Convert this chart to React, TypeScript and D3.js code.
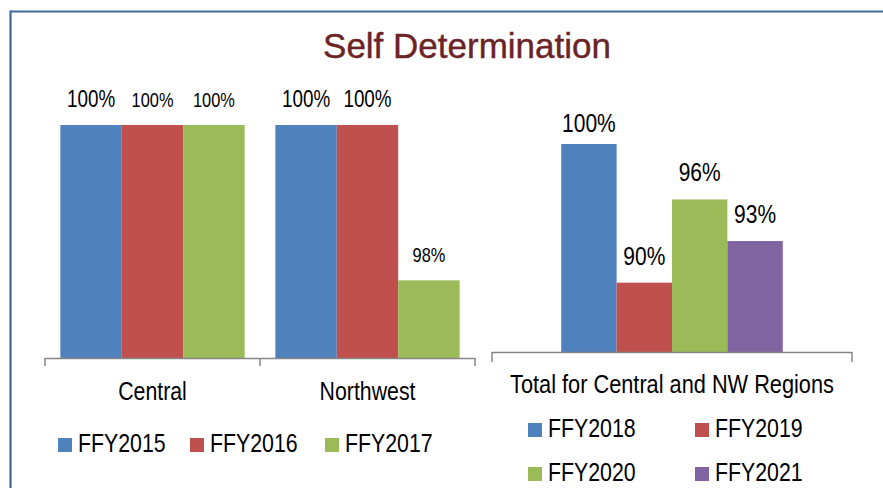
import React from "react";
import * as d3 from "d3";

const leftCategories = ["Central", "Northwest"];
const leftSeries = ["FFY2015", "FFY2016", "FFY2017"];
const leftValues = [
  [100, 100, 100],
  [100, 100, 98],
];
const leftLabelSizes = [
  [23, 20, 20],
  [23, 23, 20],
];
const rightCategory = "Total for Central and NW Regions";
const rightSeries = ["FFY2018", "FFY2019", "FFY2020", "FFY2021"];
const rightValues = [100, 90, 96, 93];
const colors = ["#4f81bd", "#c0504d", "#9bbb59", "#8064a2"];
const title = "Self Determination";

const SANS = "'Liberation Sans', Arial, sans-serif";
const NARROW_SX = 0.82;

function T(props: {
  x: number;
  y: number;
  size: number;
  anchor?: "start" | "middle" | "end";
  sx?: number;
  children: React.ReactNode;
}) {
  const sx = props.sx ?? NARROW_SX;
  return (
    <text
      transform={`translate(${props.x},${props.y}) scale(${sx},1)`}
      textAnchor={props.anchor ?? "start"}
      fontFamily={SANS}
      fontSize={props.size}
      fill="#000"
    >
      {props.children}
    </text>
  );
}

export default function App() {
  const W = 883, H = 488;
  // left panel
  const lx = d3.scaleBand<string>().domain(leftCategories).range([45, 475]).paddingInner(0).paddingOuter(0);
  const lsub = d3.scaleBand<string>().domain(leftSeries).range([0, lx.bandwidth()]).paddingInner(0).paddingOuter(0.25);
  const ly = d3.scaleLinear().domain([97, 100]).range([358, 125]);
  // right panel
  const rx = d3.scaleBand<string>().domain(rightSeries).range([492, 852]).paddingInner(0).paddingOuter(1.25);
  const ry = d3.scaleLinear().domain([85, 100]).range([352, 144]);
  const rTop = 112;
  const axisColor = "#868686";

  return (
    <svg width={W} height={H} style={{ position: "absolute", left: 0, top: 0, background: "#fff" }}>
      <rect x={0} y={0} width={W} height={H} fill="#fff" />
      {/* frame */}
      <line x1={10} y1={11.5} x2={W} y2={11.5} stroke="#41689a" strokeWidth={2.2} />
      <line x1={10.5} y1={10.5} x2={10.5} y2={H} stroke="#41689a" strokeWidth={2.2} />
      <text x={467} y={58} textAnchor="middle" fontFamily={SANS} fontSize={35} fill="#6b2326" stroke="#6b2326" strokeWidth={0.4}>
        {title}
      </text>

      {/* left bars */}
      {leftCategories.map((c, ci) => (
        <g key={c}>
          {leftSeries.map((s, si) => {
            const v = leftValues[ci][si];
            const x = (lx(c) as number) + (lsub(s) as number);
            return (
              <g key={s}>
                <rect x={x} y={ly(v)} width={lsub.bandwidth()} height={ly.range()[0] - ly(v)} fill={colors[si]} />
                <T x={x + lsub.bandwidth() / 2} y={ly(v) - 18} anchor="middle" size={leftLabelSizes[ci][si]}>
                  {v + "%"}
                </T>
              </g>
            );
          })}
          <T x={(lx(c) as number) + lx.bandwidth() / 2} y={400} anchor="middle" size={26}>
            {c}
          </T>
        </g>
      ))}
      <line x1={45} y1={358.5} x2={475} y2={358.5} stroke={axisColor} strokeWidth={1.5} />
      {[...leftCategories.map((c) => lx(c) as number), 475].map((t, i) => (
        <line key={i} x1={t} y1={358} x2={t} y2={366} stroke={axisColor} strokeWidth={1.5} />
      ))}

      {/* right bars */}
      {rightSeries.map((s, si) => {
        const v = rightValues[si];
        const x = rx(s) as number;
        const ty = Math.max(ry(v) - 18, rTop + 20);
        return (
          <g key={s}>
            <rect x={x} y={ry(v)} width={rx.bandwidth()} height={ry.range()[0] - ry(v)} fill={colors[si]} />
            <T x={x + rx.bandwidth() / 2} y={ty} anchor="middle" size={25} sx={0.84}>
              {v + "%"}
            </T>
          </g>
        );
      })}
      <line x1={492} y1={352.5} x2={852} y2={352.5} stroke={axisColor} strokeWidth={1.5} />
      {[492, 852].map((t, i) => (
        <line key={i} x1={t} y1={352} x2={t} y2={362} stroke={axisColor} strokeWidth={1.5} />
      ))}
      <T x={672} y={393} anchor="middle" size={25} sx={0.87}>
        {rightCategory}
      </T>

      {/* left legend */}
      {leftSeries.map((s, i) => {
        const xs = [58, 190, 325][i];
        return (
          <g key={s}>
            <rect x={xs} y={438} width={14} height={14} fill={colors[i]} />
            <T x={xs + 20} y={452} size={26}>
              {s}
            </T>
          </g>
        );
      })}

      {/* right legend */}
      {rightSeries.map((s, i) => {
        const xs = i % 2 === 0 ? 528 : 695;
        const yb = i < 2 ? 437 : 481;
        return (
          <g key={s}>
            <rect x={xs} y={yb - 14} width={14} height={14} fill={colors[i]} />
            <T x={xs + 20} y={yb} size={26}>
              {s}
            </T>
          </g>
        );
      })}
    </svg>
  );
}
